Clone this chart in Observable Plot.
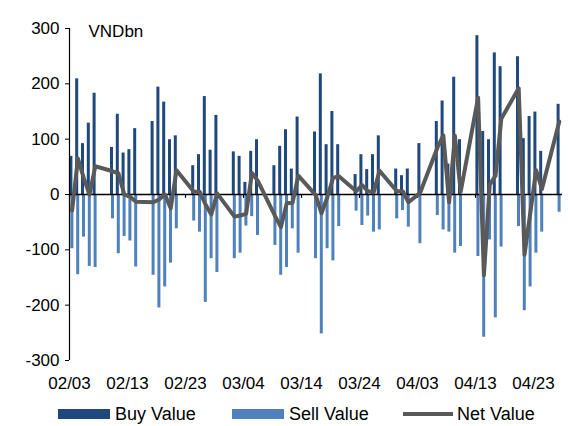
<!DOCTYPE html>
<html><head><meta charset="utf-8">
<script src="https://cdn.jsdelivr.net/npm/d3@7"></script>
<script src="https://cdn.jsdelivr.net/npm/@observablehq/plot@0.6"></script>
<style>
body{margin:0;background:#fff;font-family:"Liberation Sans",Arial,sans-serif;}
#wrap{position:relative;width:568px;height:426px;overflow:hidden;}
#legend{position:absolute;left:0;top:403px;width:568px;height:22px;font-size:18px;color:#000;}
#legend .it{position:absolute;top:0;display:flex;align-items:center;height:22px;}
#legend .sw{display:inline-block;width:52px;height:10px;margin-right:5px;}
#legend .ln{display:inline-block;width:50px;height:4px;margin-right:4px;background:#595959;}
</style></head><body>
<div id="wrap"><div id="chart"></div>
<div id="legend">
<div class="it" style="left:58px"><span class="sw" style="background:#1F497D"></span>Buy Value</div>
<div class="it" style="left:232px"><span class="sw" style="background:#4F81BD"></span>Sell Value</div>
<div class="it" style="left:403px"><span class="ln"></span>Net Value</div>
</div></div>
<script>
const dates = [
"2020-02-03","2020-02-04","2020-02-05","2020-02-06","2020-02-07",
"2020-02-10","2020-02-11","2020-02-12","2020-02-13","2020-02-14",
"2020-02-17","2020-02-18","2020-02-19","2020-02-20","2020-02-21",
"2020-02-24","2020-02-25","2020-02-26","2020-02-27","2020-02-28",
"2020-03-02","2020-03-03","2020-03-04","2020-03-05","2020-03-06",
"2020-03-09","2020-03-10","2020-03-11","2020-03-12","2020-03-13",
"2020-03-16","2020-03-17","2020-03-18","2020-03-19","2020-03-20",
"2020-03-23","2020-03-24","2020-03-25","2020-03-26","2020-03-27",
"2020-03-30","2020-03-31","2020-04-01","2020-04-03",
"2020-04-06","2020-04-07","2020-04-08","2020-04-09","2020-04-10",
"2020-04-13","2020-04-14","2020-04-15","2020-04-16","2020-04-17",
"2020-04-20","2020-04-21","2020-04-22","2020-04-23","2020-04-24",
"2020-04-27"];
const buyValue = [
69,209,92,129,183,
85,145,75,81,119,
132,194,167,99,106,
52,72,177,80,143,
77,69,22,78,99,
52,87,117,46,140,
113,218,90,150,90,
36,72,45,72,106,
46,34,46,92,
132,169,55,212,99,
287,114,99,256,231,
249,101,141,149,78,
163];
const sellValue = [
-98,-145,-77,-130,-132,
-44,-107,-76,-84,-131,
-146,-205,-167,-124,-62,
-48,-68,-195,-116,-141,
-116,-106,-57,-40,-74,
-92,-146,-132,-62,-106,
-116,-252,-98,-120,-58,
-30,-56,-39,-68,-64,
-44,-29,-59,-89,
-38,-64,-68,-106,-94,
-112,-258,-82,-223,-95,
-58,-210,-167,-106,-68,
-32];
const netValue = [
-29,65,30,0,51,
42,38,0,-4,-13,
-14,-9,0,-25,44,
5,5,-18,-36,2,
-40,-38,-35,39,25,
-39,-59,-16,-15,34,
-1,-34,-5,30,33,
6,17,6,4,43,
6,6,-14,3,
85,107,-14,106,5,
175,-146,18,34,137,
192,-109,-33,44,10,
132];
const xTicks = ["2020-02-03","2020-02-13","2020-02-23","2020-03-04","2020-03-14","2020-03-24","2020-04-03","2020-04-13","2020-04-23"];
const yTicks = [-300,-200,-100,0,100,200,300];

const rows = dates.map((d,i)=>({date:new Date(d), buy:buyValue[i], sell:sellValue[i], net:netValue[i]}));
const xt = xTicks.map(d=>new Date(d));
const day = 864e5;
const x0 = new Date("2020-02-03"), x1 = new Date("2020-04-28");
const fmt = d3.utcFormat("%m/%d");

const chart = Plot.plot({
  width:568, height:396,
  marginLeft:69, marginRight:6, marginTop:28, marginBottom:36,
  style:{fontFamily:'"Liberation Sans",Arial,sans-serif', fontSize:"17px", color:"#000", background:"#fff"},
  x:{type:"utc", domain:[x0,x1]},
  y:{domain:[-300,300]},
  marks:[
    Plot.rectY(rows,{x1:d=>d.date, x2:d=>new Date(+d.date+day), y1:0, y2:"buy", fill:"#1F497D", insetLeft:0.4, insetRight:2.4}),
    Plot.rectY(rows,{x1:d=>d.date, x2:d=>new Date(+d.date+day), y1:0, y2:"sell", fill:"#4F81BD", insetLeft:1.4, insetRight:1.4}),
    Plot.ruleY([0],{stroke:"#000", strokeWidth:1.5}),
    Plot.ruleX(xt,{y1:()=>0, y2:()=>-7, stroke:"#000", strokeWidth:1.2}),
    Plot.ruleX([x0],{stroke:"#000", strokeWidth:1.2}),
    Plot.line(rows,{x:d=>new Date(+d.date+day*0.45), y:"net", stroke:"#595959", strokeWidth:4, strokeLinejoin:"round"}),
    Plot.axisY({ticks:yTicks, tickSize:4, tickPadding:6, tickFormat:d=>String(d), fontSize:17}),
    Plot.axisX({ticks:xt, tickSize:0, tickPadding:16, tickFormat:fmt, fontSize:17}),
    Plot.text(["VNDbn"],{frameAnchor:"top-left", dx:19, dy:3, text:d=>d, fontSize:17, textAnchor:"start", lineAnchor:"middle"})
  ]
});
document.getElementById("chart").appendChild(chart);
</script>
</body></html>
